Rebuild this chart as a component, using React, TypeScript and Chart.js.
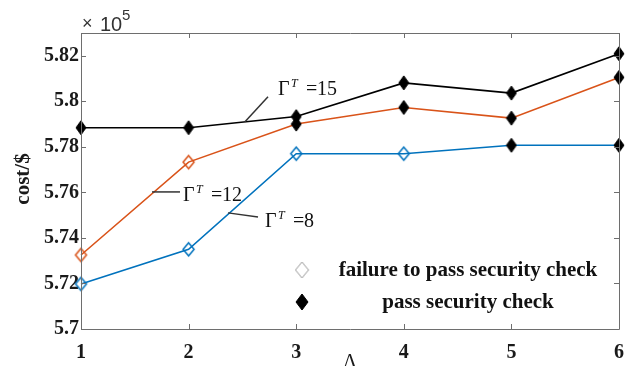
import React, { useEffect, useRef } from "react";
import { Chart, registerables } from "chart.js";

Chart.register(...registerables);

// ---- data ----
const lambda = [1, 2, 3, 4, 5, 6];
const costG15 = [5.7884, 5.7884, 5.7933, 5.8081, 5.8036, 5.8209];
const costG12 = [5.7325, 5.7733, 5.7900, 5.7973, 5.7926, 5.8105];
const costG8 = [5.7198, 5.7350, 5.7770, 5.7770, 5.7807, 5.7807];
// 1 = pass security check, 0 = failure to pass security check
const passG15 = [1, 1, 1, 1, 1, 1];
const passG12 = [0, 0, 1, 1, 1, 1];
const passG8 = [0, 0, 0, 0, 1, 1];
const xTicks = [1, 2, 3, 4, 5, 6];
const yTicks = [5.7, 5.72, 5.74, 5.76, 5.78, 5.8, 5.82];
const legendLabels = ["failure to pass security check", "pass security check"];
const yTitle = "cost/$";
const xTitle = "Λ";
// annotation: [label number, leader start x,y, leader end x,y, text x, text baseline y] in data units
const annotations: [string, number, number, number, number, number, number][] = [
  ["15", 2.524, 5.791, 2.738, 5.802, 2.831, 5.8029],
  ["12", 1.66, 5.7602, 1.92, 5.7602, 1.948, 5.7563],
  ["8", 2.366, 5.751, 2.645, 5.7492, 2.71, 5.7448],
];

const SERIF = '"Liberation Serif", "Times New Roman", serif';
const SANS = '"Liberation Sans", Arial, sans-serif';

function makeDiamond(w: number, h: number, fill: string | null, stroke: string, lw: number) {
  const pad = Math.ceil(lw);
  const c = document.createElement("canvas");
  c.width = w + pad * 2;
  c.height = h + pad * 2;
  const ctx = c.getContext("2d")!;
  const cx = c.width / 2, cy = c.height / 2;
  ctx.beginPath();
  ctx.moveTo(cx, cy - h / 2);
  ctx.lineTo(cx + w / 2, cy);
  ctx.lineTo(cx, cy + h / 2);
  ctx.lineTo(cx - w / 2, cy);
  ctx.closePath();
  if (fill) {
    ctx.fillStyle = fill;
    ctx.fill();
  }
  ctx.lineWidth = lw;
  ctx.strokeStyle = stroke;
  ctx.stroke();
  return c;
}

export default function App() {
  const ref = useRef<HTMLCanvasElement>(null);

  useEffect(() => {
    document.body.style.margin = "0";
    const canvas = ref.current!;
    const filled = makeDiamond(10, 14, "#000", "#000", 1);
    const openBlue = makeDiamond(11, 13, null, "#0072BD", 1.5);
    const openOrange = makeDiamond(11, 13, null, "#D95319", 1.5);
    const legendOpen = makeDiamond(13, 16, null, "#9a9a9a", 1);
    const legendFilled = makeDiamond(12, 16, "#000", "#000", 1);

    const mk = (label: string, vals: number[], pass: number[], color: string, open: HTMLCanvasElement) => ({
      label,
      data: lambda.map((x, i) => ({ x, y: vals[i] })),
      borderColor: color,
      borderWidth: 1.6,
      pointStyle: pass.map((p) => (p ? filled : open)),
      pointRadius: 7,
      pointHoverRadius: 7,
      clip: false as any,
      tension: 0,
    });

    const overlay = {
      id: "overlay",
      afterDraw(chart: any) {
        const ctx = chart.ctx as CanvasRenderingContext2D;
        const { left, right, top, bottom } = chart.chartArea;
        const xs = chart.scales.x, ys = chart.scales.y;
        ctx.save();
        // box
        ctx.strokeStyle = "#6e6e6e";
        ctx.lineWidth = 1;
        ctx.beginPath();
        ctx.rect(Math.round(left) + 0.5, Math.round(top) + 0.5, Math.round(right - left), Math.round(bottom - top));
        ctx.stroke();
        // inward ticks
        const tl = 5;
        ctx.beginPath();
        xTicks.forEach((v) => {
          const px = Math.round(xs.getPixelForValue(v)) + 0.5;
          ctx.moveTo(px, bottom);
          ctx.lineTo(px, bottom - tl);
          ctx.moveTo(px, top);
          ctx.lineTo(px, top + tl);
        });
        yTicks.forEach((v) => {
          const py = Math.round(ys.getPixelForValue(v)) + 0.5;
          ctx.moveTo(left, py);
          ctx.lineTo(left + tl, py);
          ctx.moveTo(right, py);
          ctx.lineTo(right - tl, py);
        });
        ctx.stroke();

        // exponent label
        ctx.fillStyle = "#333";
        ctx.textBaseline = "alphabetic";
        ctx.textAlign = "left";
        ctx.font = `18px ${SANS}`;
        ctx.fillText("×", left + 1, top - 4);
        ctx.font = `20px ${SANS}`;
        ctx.fillText("10", left + 19, top - 2);
        ctx.font = `15px ${SANS}`;
        ctx.fillText("5", left + 41, top - 13);

        // axis titles
        ctx.fillStyle = "#1a1a1a";
        ctx.font = `bold 21px ${SERIF}`;
        ctx.save();
        ctx.translate(29, 179);
        ctx.rotate(-Math.PI / 2);
        ctx.textAlign = "center";
        ctx.fillText(yTitle, 0, 0);
        ctx.restore();
        ctx.font = `20px ${SERIF}`;
        ctx.textAlign = "center";
        ctx.fillText(xTitle, 350, 368);

        // annotations
        annotations.forEach(([num, x1, y1, x2, y2, tx, ty]) => {
          ctx.strokeStyle = "#333";
          ctx.lineWidth = 1.5;
          ctx.beginPath();
          ctx.moveTo(xs.getPixelForValue(x1), ys.getPixelForValue(y1));
          ctx.lineTo(xs.getPixelForValue(x2), ys.getPixelForValue(y2));
          ctx.stroke();
          const px = xs.getPixelForValue(tx);
          const py = ys.getPixelForValue(ty);
          ctx.fillStyle = "#111";
          ctx.textAlign = "left";
          ctx.font = `20px ${SERIF}`;
          ctx.fillText("Γ", px, py);
          ctx.font = `italic 12px ${SERIF}`;
          ctx.fillText("T", px + 13, py - 8);
          ctx.font = `20px ${SERIF}`;
          ctx.fillText("=", px + 28, py);
          ctx.fillText(num, px + 39, py);
        });

        // legend
        const lx = 302;
        const rows = [
          [legendOpen, legendLabels[0], 270],
          [legendFilled, legendLabels[1], 302],
        ] as [HTMLCanvasElement, string, number][];
        rows.forEach(([img, text, y]) => {
          ctx.drawImage(img, lx - img.width / 2, y - img.height / 2);
          ctx.fillStyle = "#111";
          ctx.font = `bold 21px ${SERIF}`;
          ctx.textAlign = "center";
          ctx.textBaseline = "middle";
          ctx.fillText(text, 468, y + 1);
        });
        ctx.restore();
      },
    };

    const chart = new Chart(canvas, {
      type: "line",
      data: {
        datasets: [
          mk("Γ=15", costG15, passG15, "#000000", openOrange),
          mk("Γ=12", costG12, passG12, "#D95319", openOrange),
          mk("Γ=8", costG8, passG8, "#0072BD", openBlue),
        ],
      },
      options: {
        animation: false,
        responsive: false,
        events: [],
        layout: { padding: { left: 0, right: 21, top: 33, bottom: 0 } },
        plugins: { legend: { display: false }, tooltip: { enabled: false } },
        scales: {
          x: {
            type: "linear",
            min: 1,
            max: 6,
            grid: { display: false, drawTicks: false },
            border: { display: false },
            afterFit: (s: any) => { s.height = 37; },
            afterBuildTicks: (s: any) => { s.ticks = xTicks.map((v) => ({ value: v })); },
            ticks: {
              padding: 12,
              color: "#1a1a1a",
              font: { family: SERIF, size: 20, weight: "bold" },
              maxRotation: 0,
              callback: (v: any) => String(v),
            },
          },
          y: {
            type: "linear",
            min: 5.7,
            max: 5.83,
            grid: { display: false, drawTicks: false },
            border: { display: false },
            afterFit: (s: any) => { s.width = 81; },
            afterBuildTicks: (s: any) => { s.ticks = yTicks.map((v) => ({ value: v })); },
            ticks: {
              padding: 2,
              color: "#1a1a1a",
              font: { family: SERIF, size: 20, weight: "bold" },
              callback: (v: any) => String(Number(Number(v).toFixed(2))),
            },
          },
        },
      },
      plugins: [overlay],
    });
    return () => chart.destroy();
  }, []);

  return (
    <div style={{ width: 640, height: 366, background: "#fff" }}>
      <canvas ref={ref} width={640} height={366} />
    </div>
  );
}
